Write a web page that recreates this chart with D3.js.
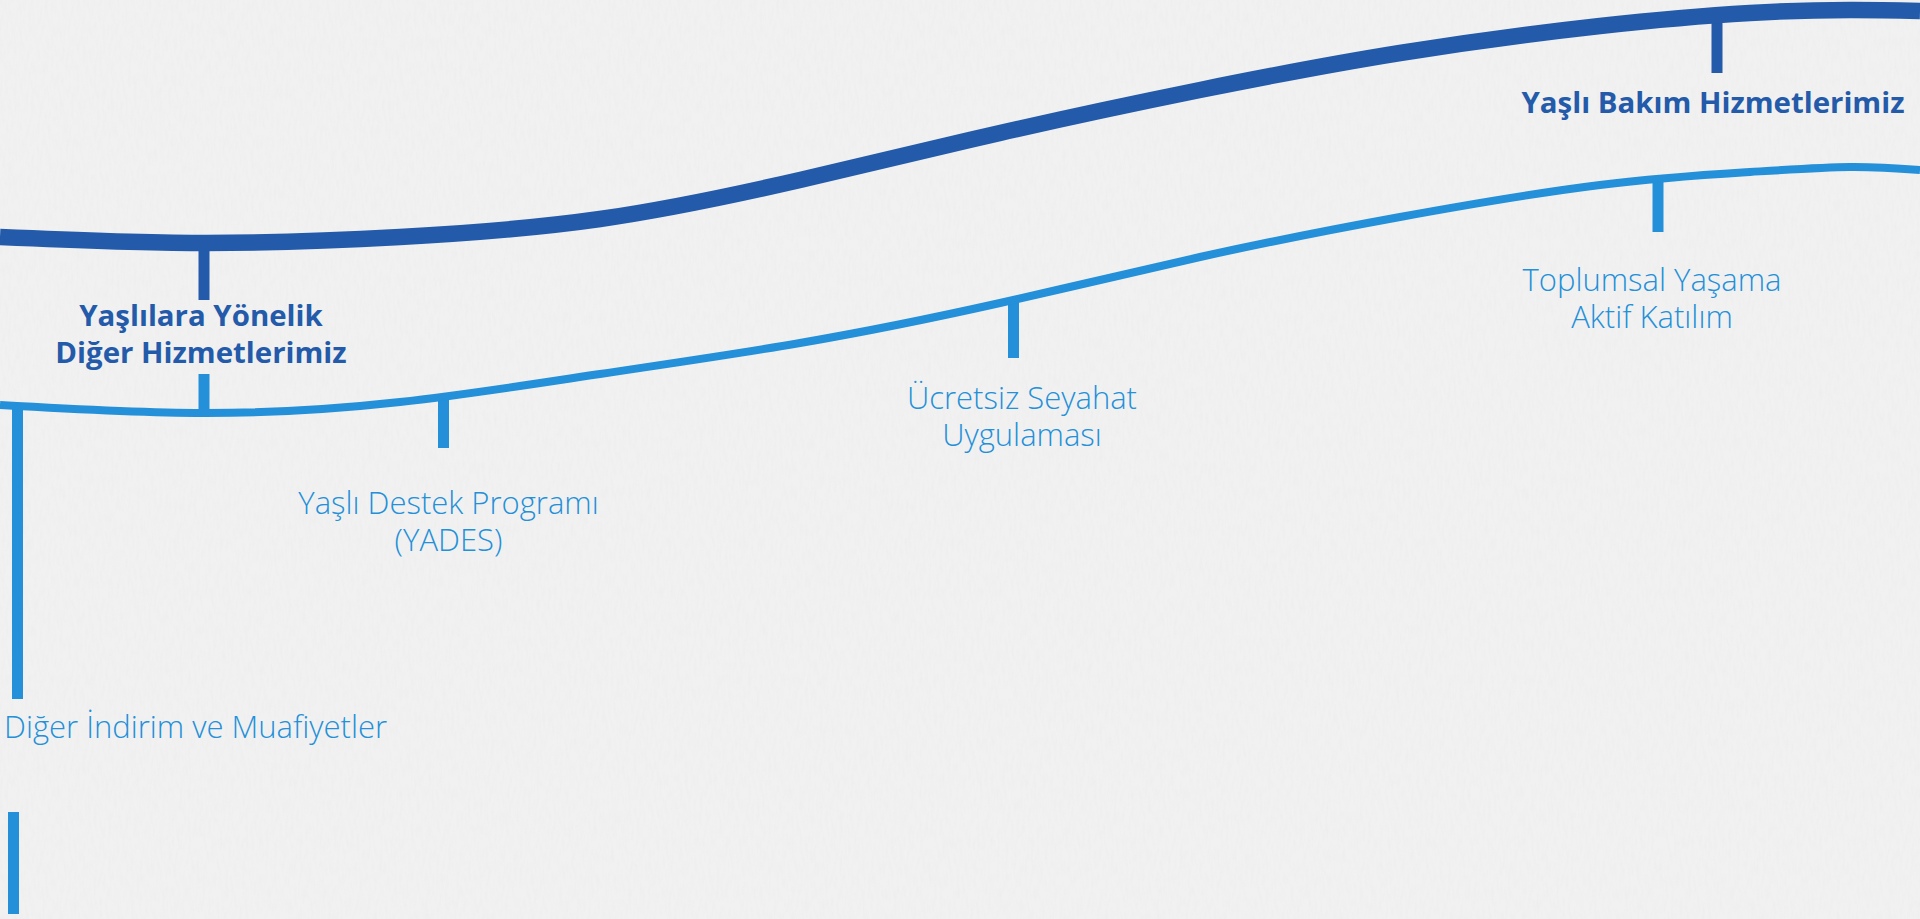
<!DOCTYPE html>
<html>
<head>
<meta charset="utf-8">
<script src="https://cdn.jsdelivr.net/npm/d3@7"></script>
<style>
  html, body { margin: 0; padding: 0; overflow: hidden; background: #f1f1f1; }
  #chart svg { display: block; }
</style>
</head>
<body>
<div id="chart"></div>
<script>
// Page size
const width = 1920;
const height = 919;

// Curve points (x along the timeline, y down from top)
const darkCurve = [
    [0, 237], [200, 243], [400, 237], [600, 219], [800, 180], [1000, 133],
    [1200, 90], [1400, 53], [1600, 26], [1750, 13], [1850, 10], [1920, 11]
];
const lightCurve = [
    [0, 405], [204, 413], [400, 402], [600, 374], [800, 343], [1000, 303],
    [1200, 257], [1400, 217], [1600, 185], [1750, 172], [1850, 167], [1920, 170]
];

// Stems hanging off the curves: x, start, end
const darkStems = [
    { x: 204, from: 243, to: 300 },
    { x: 1717, from: 15, to: 73 }
];
const lightStems = [
    { x: 204, from: 374, to: 413 },
    { x: 17.5, from: 404, to: 699 },
    { x: 443.5, from: 397, to: 448 },
    { x: 1013.5, from: 300, to: 358 },
    { x: 1658, from: 180, to: 232 },
    { x: 13.5, from: 812, to: 914 }
];

// Label texts
const darkLabels = [
    ["Yaşlılara Yönelik", "Diğer Hizmetlerimiz"],
    ["Yaşlı Bakım Hizmetlerimiz"]
];
const lightLabels = [
    ["Yaşlı Destek Programı", "(YADES)"],
    ["Ücretsiz Seyahat", "Uygulaması"],
    ["Toplumsal Yaşama", "Aktif Katılım"],
    ["Diğer İndirim ve Muafiyetler"]
];
// Where each label sits (anchor x, first baseline)
const darkLabelPos = [[201, 325.5], [1713, 113]];
const lightLabelPos = [[448.5, 514], [1022, 409], [1652, 291], [4, 737.5]];
const lightLabelAnchor = ["middle", "middle", "middle", "start"];

const darkBlue = "#235baa";
const lightBlue = "#2390d9";

const svg = d3.select("#chart")
    .append("svg")
    .attr("width", width)
    .attr("height", height);

// Scales (picture units straight onto the page)
const x = d3.scaleLinear().domain([0, 1920]).range([0, width]);
const y = d3.scaleLinear().domain([0, 919]).range([0, height]);

// Paper-ish background
const defs = svg.append("defs");
const noise = defs.append("filter")
    .attr("id", "paper")
    .attr("x", 0).attr("y", 0).attr("width", "100%").attr("height", "100%");
noise.append("feTurbulence")
    .attr("type", "fractalNoise")
    .attr("baseFrequency", "0.35 0.08")
    .attr("numOctaves", 3)
    .attr("seed", 7);
noise.append("feColorMatrix")
    .attr("type", "matrix")
    .attr("values", "0 0 0 0 0.5  0 0 0 0 0.5  0 0 0 0 0.5  0.9 0 0 0 -0.35");

svg.append("rect")
    .attr("width", width).attr("height", height)
    .attr("fill", "#f1f1f1");
svg.append("rect")
    .attr("width", width).attr("height", height)
    .attr("filter", "url(#paper)")
    .attr("opacity", 0.12);

// Natural spline through the points keeps the waves smooth
const line = d3.line()
    .x(d => x(d[0]))
    .y(d => y(d[1]))
    .curve(d3.curveNatural);

// Stems first, curves drawn over them
svg.selectAll(".dark-stem")
    .data(darkStems)
    .enter()
    .append("line")
    .attr("class", "dark-stem")
    .attr("x1", d => x(d.x)).attr("x2", d => x(d.x))
    .attr("y1", d => y(d.from)).attr("y2", d => y(d.to))
    .attr("stroke", darkBlue)
    .attr("stroke-width", 11);

svg.selectAll(".light-stem")
    .data(lightStems)
    .enter()
    .append("line")
    .attr("class", "light-stem")
    .attr("x1", d => x(d.x)).attr("x2", d => x(d.x))
    .attr("y1", d => y(d.from)).attr("y2", d => y(d.to))
    .attr("stroke", lightBlue)
    .attr("stroke-width", 11);

svg.append("path")
    .datum(darkCurve)
    .attr("fill", "none")
    .attr("stroke", darkBlue)
    .attr("stroke-width", 16.5)
    .attr("d", line);

svg.append("path")
    .datum(lightCurve)
    .attr("fill", "none")
    .attr("stroke", lightBlue)
    .attr("stroke-width", 8)
    .attr("d", line);

// Labels
function addLabel(lines, pos, anchor, color, weight, size) {
    const t = svg.append("text")
        .attr("x", x(pos[0]))
        .attr("y", y(pos[1]))
        .attr("text-anchor", anchor)
        .attr("fill", color)
        .style("font-family", "'Open Sans', 'Noto Sans', sans-serif")
        .style("font-size", size + "px")
        .style("font-weight", weight);
    lines.forEach((s, i) => {
        t.append("tspan")
            .attr("x", x(pos[0]))
            .attr("dy", i === 0 ? 0 : 37)
            .text(s);
    });
}

darkLabels.forEach((lines, i) => addLabel(lines, darkLabelPos[i], "middle", darkBlue, 700, 29.4));
lightLabels.forEach((lines, i) => addLabel(lines, lightLabelPos[i], lightLabelAnchor[i], lightBlue, 300, 31));
</script>
</body>
</html>
